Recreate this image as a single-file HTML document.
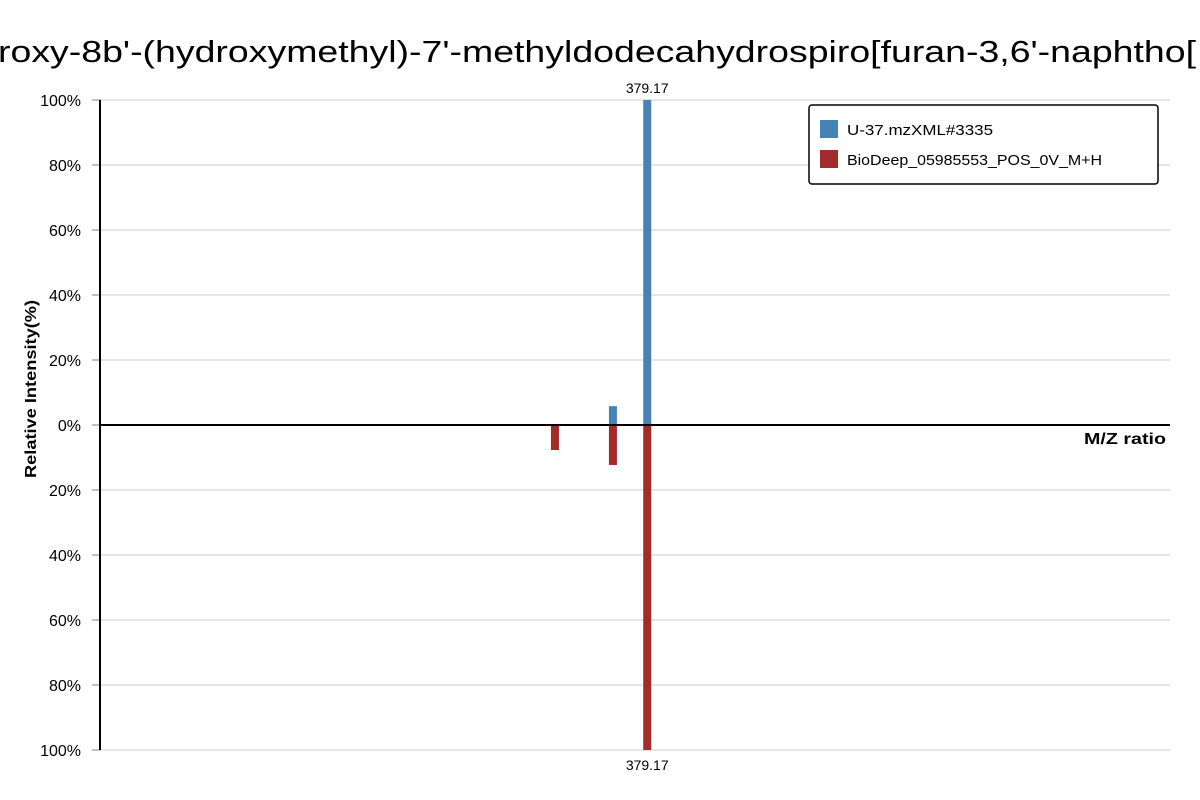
<!DOCTYPE html>
<html><head><meta charset="utf-8"><style>
body{margin:0;background:#fff;}
svg{font-family:"Liberation Sans",sans-serif;display:block}
</style></head><body>
<svg width="1200" height="800" id="chart">
<text x="-2" y="62" font-size="31" fill="#000" textLength="1198" lengthAdjust="spacingAndGlyphs">roxy-8b'-(hydroxymethyl)-7'-methyldodecahydrospiro[furan-3,6'-naphtho[</text>
<g id="grid"></g>
<g id="bars"></g>
<line x1="100" y1="100" x2="100" y2="750" stroke="#000" stroke-width="2"/>
<line x1="100" y1="425" x2="1170" y2="425" stroke="#000" stroke-width="2"/>
<text x="1166" y="444" font-size="16" font-weight="bold" text-anchor="end" textLength="82" lengthAdjust="spacingAndGlyphs">M/Z ratio</text>
<text transform="translate(36,389) rotate(-90)" font-size="16" font-weight="bold" text-anchor="middle" textLength="178" lengthAdjust="spacingAndGlyphs">Relative Intensity(%)</text>
<g>
<rect x="809" y="105" width="349" height="79" rx="3" fill="#fff" stroke="#000" stroke-width="1.5"/>
<rect x="820" y="120" width="18" height="18" fill="#4682b4"/>
<text x="847" y="135" font-size="15" textLength="146" lengthAdjust="spacingAndGlyphs">U-37.mzXML#3335</text>
<rect x="820" y="150" width="18" height="18" fill="#a52a2a"/>
<text x="847" y="165" font-size="15" textLength="255" lengthAdjust="spacingAndGlyphs">BioDeep_05985553_POS_0V_M+H</text>
</g>
</svg>
<script>
const topMz=[358.8,379.17];
const topInt=[5.8,100];
const botMz=[324.4,358.8,379.17];
const botInt=[7.7,12.3,100];
const yTicks=[100,80,60,40,20,0,20,40,60,80,100];
const ns="http://www.w3.org/2000/svg";
const x=m=>101+(m-55)/635*1070;
const yTop=v=>425-v*3.25;
const yBot=v=>425+v*3.25;
const grid=document.getElementById('grid'),bars=document.getElementById('bars');
function mk(t,a,p){const e=document.createElementNS(ns,t);for(const k in a)e.setAttribute(k,a[k]);p.appendChild(e);return e;}
yTicks.forEach((t,i)=>{const y=100+i*65;
 const g=mk('line',{x1:100,x2:1170,y1:y,y2:y,stroke:'#ddd','stroke-width':1.5},grid);
 
 
 const k=mk('line',{x1:92,x2:100,y1:y,y2:y,stroke:'#aaa','stroke-width':1.5},grid);
 
 
 const tx=mk('text',{x:81,y:y+6,'font-size':16,'text-anchor':'end'},grid);tx.textContent=t+'%';
 
 
});
topMz.forEach((m,i)=>{const r=mk('rect',{x:x(m)-4,y:yTop(topInt[i]),width:8,height:425-yTop(topInt[i]),fill:'#4682b4'},bars);
 
 });
botMz.forEach((m,i)=>{const r=mk('rect',{x:x(m)-4,y:425,width:8,height:yBot(botInt[i])-425,fill:'#a52a2a'},bars);
 
 });
const im=topInt.indexOf(Math.max(...topInt));
const l1=mk('text',{x:x(topMz[im]),y:yTop(topInt[im])-7,'font-size':14,'text-anchor':'middle'},bars);l1.textContent=topMz[im].toFixed(2);


const ib=botInt.indexOf(Math.max(...botInt));
const l2=mk('text',{x:x(botMz[ib]),y:yBot(botInt[ib])+20,'font-size':14,'text-anchor':'middle'},bars);l2.textContent=botMz[ib].toFixed(2);


</script>
</body></html>
